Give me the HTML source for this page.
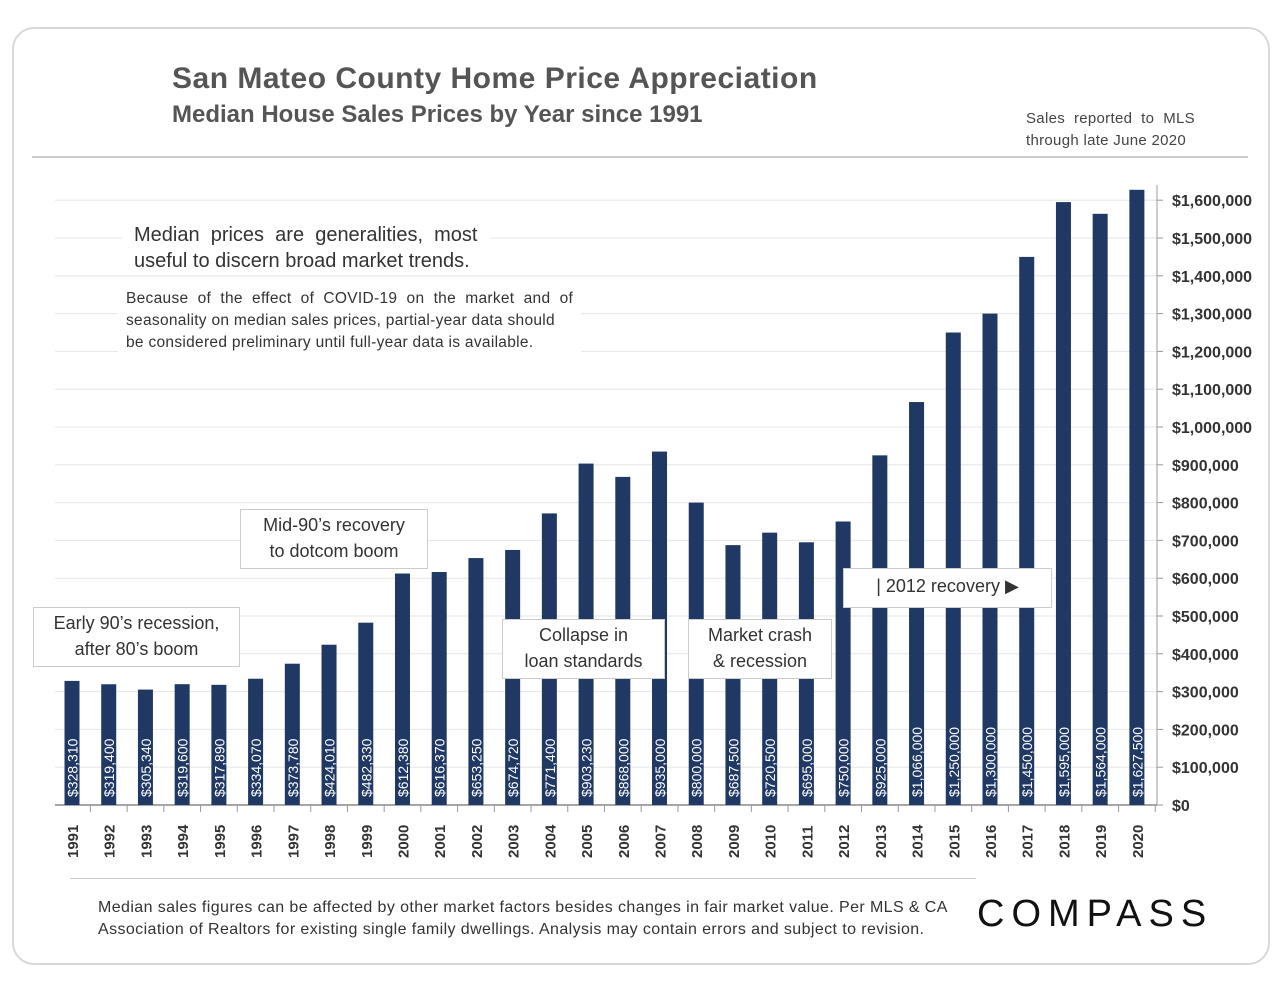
<!DOCTYPE html>
<html><head><meta charset="utf-8"><style>
body{margin:0;width:1280px;height:989px;background:#fff;font-family:"Liberation Sans",sans-serif;overflow:hidden}
.card{position:absolute;left:12px;top:27px;width:1254px;height:934px;border:2px solid #d8d8d8;border-radius:22px}
.t{position:absolute;color:#555;white-space:nowrap}
.box{position:absolute;background:#fff;border:1px solid #ccc;color:#333;font-size:18px;text-align:center;line-height:26px}
</style></head><body>
<div class="card"></div>
<div class="t" style="left:172px;top:62px;font-size:30px;font-weight:bold;letter-spacing:0.5px">San Mateo County Home Price Appreciation</div>
<div class="t" style="left:172px;top:101px;font-size:24px;font-weight:bold">Median House Sales Prices by Year since 1991</div>
<div class="t" style="left:1026px;top:108px;font-size:15px;line-height:22px;color:#444;letter-spacing:0.3px">Sales &nbsp;reported &nbsp;to &nbsp;MLS<br>through late June 2020</div>
<div style="position:absolute;left:32px;top:156px;width:1216px;height:2px;background:#ccc"></div>
<svg id="chart" width="1280" height="989" style="position:absolute;left:0;top:0"></svg>
<div class="t" style="left:122px;top:222px;padding:0 12px;background:#fff;font-size:20px;line-height:26px;color:#333">Median &nbsp;prices &nbsp;are &nbsp;generalities, &nbsp;most<br>useful to discern broad market trends.</div>
<div class="t" style="left:118px;top:288px;padding:0 8px;background:#fff;font-size:15.5px;letter-spacing:0.3px;line-height:22px;color:#333">Because &nbsp;of &nbsp;the &nbsp;effect &nbsp;of &nbsp;COVID-19 &nbsp;on &nbsp;the &nbsp;market &nbsp;and &nbsp;of<br>seasonality on median sales prices, partial-year data should<br>be considered preliminary until full-year data is available.</div>
<div class="box" style="left:33px;top:607px;width:205px;height:56px;padding-top:2px">Early 90’s recession,<br>after 80’s boom</div>
<div class="box" style="left:240px;top:509px;width:186px;height:56px;padding-top:2px">Mid-90’s recovery<br>to dotcom boom</div>
<div class="box" style="left:502px;top:619px;width:161px;height:56px;padding-top:2px">Collapse in<br>loan standards</div>
<div class="box" style="left:688px;top:619px;width:142px;height:56px;padding-top:2px">Market crash<br>&amp; recession</div>
<div class="box" style="left:843px;top:568px;width:207px;height:34px;padding-top:4px">| 2012 recovery ▶</div>
<div style="position:absolute;left:70px;top:878px;width:906px;height:1px;background:#ccc"></div>
<div class="t" style="left:98px;top:897px;font-size:16px;letter-spacing:0.4px;line-height:22px;color:#333">Median sales figures can be affected by other market factors besides changes in fair market value. Per MLS &amp; CA<br>Association of Realtors for existing single family dwellings. Analysis may contain errors and subject to revision.</div>
<div class="t" style="left:977px;top:893px;font-size:38px;letter-spacing:7px;color:#111">COMPASS</div>
<script>
const years=[1991,1992,1993,1994,1995,1996,1997,1998,1999,2000,2001,2002,2003,2004,2005,2006,2007,2008,2009,2010,2011,2012,2013,2014,2015,2016,2017,2018,2019,2020];
const prices=[328310,319400,305340,319600,317890,334070,373780,424010,482330,612380,616370,653250,674720,771400,903230,868000,935000,800000,687500,720500,695000,750000,925000,1066000,1250000,1300000,1450000,1595000,1564000,1627500];
const ticks=[0,100000,200000,300000,400000,500000,600000,700000,800000,900000,1000000,1100000,1200000,1300000,1400000,1500000,1600000];
const svg=document.getElementById('chart');const NS='http://www.w3.org/2000/svg';
const y=v=>805-v/100000*37.8;
const x=i=>72+i*36.72;
const fmt=v=>'$'+v.toLocaleString('en-US');
function mk(t,a){const e=document.createElementNS(NS,t);for(const k in a)e.setAttribute(k,a[k]);svg.appendChild(e);return e;}
ticks.forEach(v=>{
 if(v>0){const g=mk('line',{x1:55,x2:1157,y1:y(v),y2:y(v),stroke:'#e6e6e6','stroke-width':1});
 
 }
 const tk=mk('line',{x1:1157,x2:1163,y1:y(v),y2:y(v),stroke:'#999'});
 
 
 const t=mk('text',{x:1172,y:y(v)+6,'font-size':16,'font-weight':'bold',fill:'#333','font-family':'Liberation Sans'});t.textContent=fmt(v);
 
 
});
const ax=mk('line',{x1:1157,x2:1157,y1:185,y2:805,stroke:'#999'});


const bl=mk('line',{x1:55,x2:1157,y1:805,y2:805,stroke:'#888','stroke-width':1.5});


years.forEach((yr,i)=>{
 const cx=x(i);
 const r=mk('rect',{x:cx-7.5,y:y(prices[i]),width:15,height:805-y(prices[i]),fill:'#1f3864'});
 
 
 const tk=mk('line',{x1:cx+18.4,x2:cx+18.4,y1:805,y2:812,stroke:'#999'});
 
 
 const vl=mk('text',{x:0,y:0,transform:`translate(${cx+5.5},797) rotate(-90)`,'font-size':14,fill:'#fff','font-family':'Liberation Sans'});vl.textContent=fmt(prices[i]);
 
 
 const yl=mk('text',{x:0,y:0,transform:`translate(${cx+6},858) rotate(-90)`,'font-size':15,'font-weight':'bold',fill:'#333','font-family':'Liberation Sans'});yl.textContent=yr;
 
 
});
</script>
</body></html>
